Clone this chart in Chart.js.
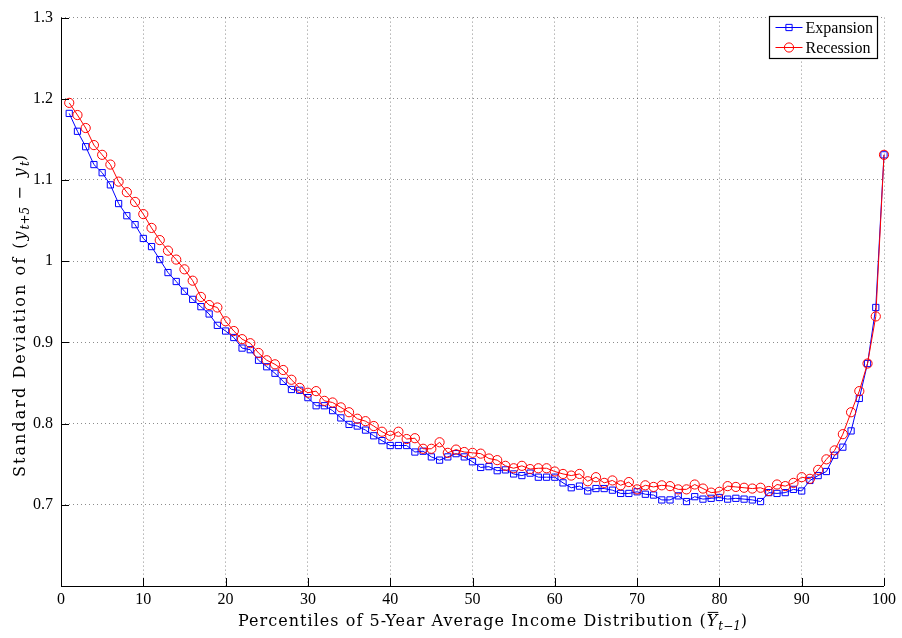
<!DOCTYPE html>
<html>
<head>
<meta charset="utf-8">
<script src="https://cdn.jsdelivr.net/npm/chart.js@4/dist/chart.umd.min.js"></script>
<style>
  html, body { margin: 0; padding: 0; background: #fff; }
  #wrap { width: 902px; height: 638px; }
</style>
</head>
<body>
<div id="wrap"><canvas id="chart" width="902" height="638"></canvas></div>
<script>
// --- data ---
const percentiles = [
  1, 2, 3, 4, 5, 6, 7, 8, 9, 10, 11, 12, 13, 14, 15, 16, 17, 18, 19, 20,
  21, 22, 23, 24, 25, 26, 27, 28, 29, 30, 31, 32, 33, 34, 35, 36, 37, 38, 39, 40,
  41, 42, 43, 44, 45, 46, 47, 48, 49, 50, 51, 52, 53, 54, 55, 56, 57, 58, 59, 60,
  61, 62, 63, 64, 65, 66, 67, 68, 69, 70, 71, 72, 73, 74, 75, 76, 77, 78, 79, 80,
  81, 82, 83, 84, 85, 86, 87, 88, 89, 90, 91, 92, 93, 94, 95, 96, 97, 98, 99, 100
];
const expansion = [
  1.182, 1.160, 1.141, 1.119, 1.109, 1.094, 1.071, 1.056, 1.045, 1.028,
  1.018, 1.002, 0.986, 0.975, 0.963, 0.953, 0.944, 0.935, 0.921, 0.914,
  0.906, 0.893, 0.891, 0.878, 0.870, 0.862, 0.852, 0.842, 0.841, 0.832,
  0.822, 0.822, 0.816, 0.807, 0.799, 0.797, 0.792, 0.785, 0.779, 0.773,
  0.773, 0.773, 0.765, 0.766, 0.759, 0.755, 0.759, 0.763, 0.759, 0.753,
  0.746, 0.747, 0.742, 0.743, 0.738, 0.736, 0.739, 0.734, 0.734, 0.734,
  0.727, 0.721, 0.723, 0.717, 0.720, 0.720, 0.718, 0.714, 0.714, 0.716,
  0.713, 0.712, 0.706, 0.706, 0.711, 0.704, 0.710, 0.707, 0.708, 0.709,
  0.707, 0.708, 0.707, 0.706, 0.704, 0.715, 0.714, 0.715, 0.719, 0.717,
  0.730, 0.736, 0.741, 0.761, 0.771, 0.791, 0.831, 0.874, 0.943, 1.131
];
const recession = [
  1.195, 1.180, 1.164, 1.143, 1.131, 1.119, 1.098, 1.085, 1.073, 1.058,
  1.041, 1.026, 1.013, 1.002, 0.990, 0.976, 0.956, 0.946, 0.943, 0.926,
  0.914, 0.904, 0.899, 0.887, 0.878, 0.873, 0.866, 0.854, 0.844, 0.838,
  0.840, 0.828, 0.826, 0.820, 0.814, 0.806, 0.803, 0.797, 0.790, 0.785,
  0.790, 0.781, 0.782, 0.769, 0.769, 0.777, 0.764, 0.768, 0.765, 0.764,
  0.763, 0.757, 0.755, 0.748, 0.745, 0.748, 0.744, 0.745, 0.745, 0.741,
  0.738, 0.736, 0.738, 0.729, 0.734, 0.727, 0.730, 0.724, 0.728, 0.719,
  0.724, 0.722, 0.724, 0.723, 0.719, 0.719, 0.725, 0.720, 0.715, 0.716,
  0.723, 0.722, 0.721, 0.720, 0.721, 0.717, 0.725, 0.723, 0.727, 0.734,
  0.732, 0.743, 0.756, 0.767, 0.787, 0.814, 0.840, 0.874, 0.932, 1.131
];
const xTickValues = [0, 10, 20, 30, 40, 50, 60, 70, 80, 90, 100];
const yTickLabels = ['', '0.7', '0.8', '0.9', '1', '1.1', '1.2', '1.3'];
const seriesNames = ['Expansion', 'Recession'];

// axis titles, split into runs so the math bits get italics / subscripts
const xTitleRuns = [
  { t: 'Percentiles of 5-Year Average Income Distribution (' },
  { t: 'Y', it: true, bar: true },
  { t: 't\u22121', it: true, sub: true },
  { t: ')' }
];
const yTitleRuns = [
  { t: 'Standard Deviation of (' },
  { t: 'y', it: true },
  { t: 't+5', it: true, sub: true },
  { t: ' \u2212 ' },
  { t: 'y', it: true },
  { t: 't', it: true, sub: true },
  { t: ')' }
];

const SERIF = '"Liberation Serif", "DejaVu Serif", serif';
const TITLE_FONT = '"DejaVu Serif", "Liberation Serif", serif';
const TITLE_SIZE = 16;

function runFont(r) {
  const size = r.sub ? 12 : TITLE_SIZE;
  return (r.it ? 'italic ' : '') + size + 'px ' + TITLE_FONT;
}

// draws a title centred on cx, loosened with letter spacing to span `span` px
function drawRuns(ctx, runs, cx, baseline, span) {
  let natural = 0, chars = 0;
  runs.forEach(r => {
    ctx.font = runFont(r);
    natural += ctx.measureText(r.t).width;
    if (!r.sub) chars += r.t.length;
  });
  const ls = Math.max(0, (span - natural) / chars);
  let total = 0;
  runs.forEach(r => {
    ctx.font = runFont(r);
    ctx.letterSpacing = (r.sub ? 0 : ls).toFixed(2) + 'px';
    total += ctx.measureText(r.t).width;
  });
  let x = cx - total / 2;
  ctx.textBaseline = 'alphabetic';
  ctx.textAlign = 'left';
  runs.forEach(r => {
    ctx.font = runFont(r);
    ctx.letterSpacing = (r.sub ? 0 : ls).toFixed(2) + 'px';
    const w = ctx.measureText(r.t).width;
    const y = r.sub ? baseline + 3.5 : baseline;
    ctx.fillText(r.t, x, y);
    if (r.bar) {
      ctx.beginPath();
      ctx.lineWidth = 1;
      ctx.moveTo(x + 1, baseline - TITLE_SIZE * 0.85);
      ctx.lineTo(x + w - ls + 1, baseline - TITLE_SIZE * 0.85);
      ctx.stroke();
    }
    x += w;
  });
  ctx.letterSpacing = '0px';
}

const decorations = {
  id: 'decorations',
  afterDraw(chart) {
    const { ctx, chartArea: a, scales } = chart;
    ctx.save();
    ctx.strokeStyle = '#000';
    ctx.fillStyle = '#000';
    ctx.lineWidth = 1;
    // solid axes on the left and bottom, with inward ticks
    ctx.beginPath();
    ctx.moveTo(Math.round(a.left) + 0.5, a.top);
    ctx.lineTo(Math.round(a.left) + 0.5, Math.round(a.bottom) + 0.5);
    ctx.lineTo(a.right, Math.round(a.bottom) + 0.5);
    xTickValues.forEach(v => {
      const px = Math.round(scales.x.getPixelForValue(v)) + 0.5;
      ctx.moveTo(px, a.bottom);
      ctx.lineTo(px, a.bottom - 8);
    });
    scales.y.ticks.forEach(t => {
      const py = Math.round(scales.y.getPixelForValue(t.value)) + 0.5;
      ctx.moveTo(a.left, py);
      ctx.lineTo(a.left + 8, py);
    });
    ctx.stroke();

    // axis titles
    drawRuns(ctx, xTitleRuns, 493, 626, 510);
    ctx.save();
    ctx.translate(25, 315);
    ctx.rotate(-Math.PI / 2);
    drawRuns(ctx, yTitleRuns, 0, 0, 324);
    ctx.restore();

    // legend box in the upper right corner
    const bx = 769.5, by = 16.5, bw = 108, bh = 42;
    ctx.fillStyle = '#fff';
    ctx.fillRect(bx, by, bw, bh);
    ctx.strokeStyle = '#000';
    ctx.lineWidth = 1.2;
    ctx.strokeRect(bx, by, bw, bh);
    chart.data.datasets.forEach((ds, i) => {
      const ly = by + 11 + i * 20;
      ctx.strokeStyle = ds.borderColor;
      ctx.lineWidth = 1;
      ctx.beginPath();
      ctx.moveTo(bx + 6, ly);
      ctx.lineTo(bx + 33, ly);
      ctx.stroke();
      ctx.fillStyle = 'rgba(0,0,0,0)';
      Chart.helpers.drawPoint(ctx, { pointStyle: ds.pointStyle, radius: ds.pointRadius, borderWidth: 1, rotation: 0 }, bx + 19.5, ly);
      ctx.fillStyle = '#000';
      ctx.font = '16px ' + SERIF;
      ctx.textBaseline = 'middle';
      ctx.textAlign = 'left';
      ctx.fillText(ds.label, bx + 36, ly + 1);
    });
    ctx.restore();
  }
};

const toPoints = ys => percentiles.map((p, i) => ({ x: p, y: ys[i] }));

new Chart(document.getElementById('chart'), {
  type: 'line',
  data: {
    datasets: [
      {
        label: seriesNames[0], data: toPoints(expansion),
        borderColor: '#0000ff', backgroundColor: 'rgba(0,0,0,0)',
        borderWidth: 1, pointStyle: 'rect', pointRadius: 4.4, pointBorderWidth: 1,
        pointBackgroundColor: 'rgba(0,0,0,0)', tension: 0, clip: false, order: 2
      },
      {
        label: seriesNames[1], data: toPoints(recession),
        borderColor: '#ff0000', backgroundColor: 'rgba(0,0,0,0)',
        borderWidth: 1, pointStyle: 'circle', pointRadius: 4.6, pointBorderWidth: 1,
        pointBackgroundColor: 'rgba(0,0,0,0)', tension: 0, clip: false, order: 1
      }
    ]
  },
  options: {
    responsive: false,
    animation: false,
    devicePixelRatio: 1,
    layout: { padding: { top: 11, right: 18, left: 0, bottom: 0 } },
    plugins: { legend: { display: false }, tooltip: { enabled: false } },
    scales: {
      x: {
        type: 'linear', min: 0, max: 100,
        afterBuildTicks: s => { s.ticks = xTickValues.map(v => ({ value: v })); },
        afterFit: s => { s.height = 52; },
        ticks: { color: '#000', font: { family: SERIF, size: 16 }, padding: 4, maxRotation: 0 },
        grid: { color: 'rgba(0,0,0,0.45)', lineWidth: 1, drawTicks: false },
        border: { display: false, dash: [1, 3] }
      },
      y: {
        type: 'linear', min: 0.6, max: 1.3,
        ticks: {
          stepSize: 0.1, color: '#000', font: { family: SERIF, size: 16 }, padding: 8,
          callback: (v, i) => yTickLabels[i]
        },
        afterFit: s => { s.width = 61; },
        grid: { color: 'rgba(0,0,0,0.45)', lineWidth: 1, drawTicks: false },
        border: { display: false, dash: [1, 3] }
      }
    }
  },
  plugins: [decorations]
});
</script>
</body>
</html>
